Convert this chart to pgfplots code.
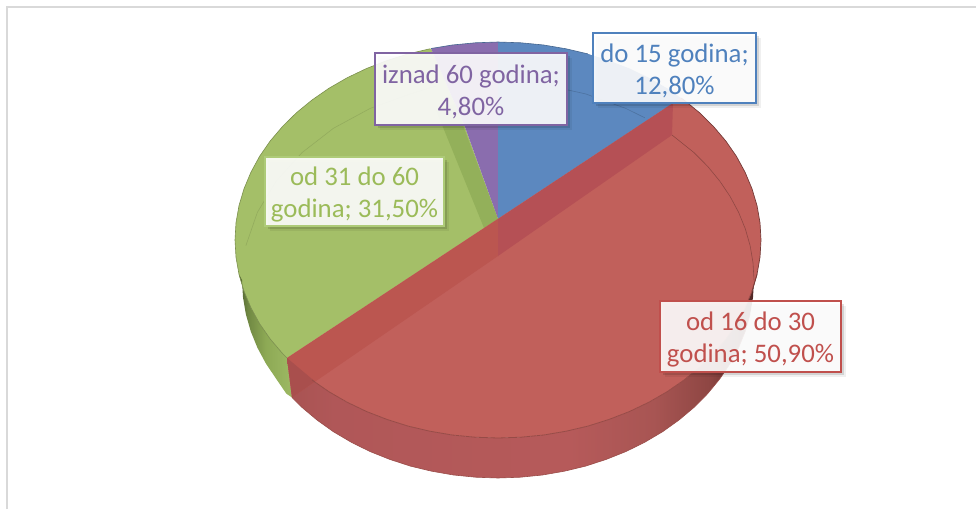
\documentclass[border=0pt]{standalone}
\usepackage{fontspec}
\setmainfont{Carlito}
\usepackage{pgfplots}
\pgfplotsset{compat=1.18}
\usetikzlibrary{shadows}
\definecolor{cBlue}{HTML}{5C88BF}
\definecolor{cPurple}{HTML}{8A6DAE}
\definecolor{cGreen}{HTML}{A4BF68}
\definecolor{cDkGreen}{HTML}{93B05A}
\definecolor{cRed}{HTML}{C1605B}
\definecolor{tBlue}{HTML}{4F81BD}
\definecolor{tRed}{HTML}{C0504D}
\definecolor{tGreen}{HTML}{9BBB59}
\definecolor{tPurple}{HTML}{8064A2}
\definecolor{bGreen}{HTML}{AECB78}
\definecolor{frameC}{HTML}{D9D9D9}
\definecolor{bandL}{HTML}{BB5650}
\definecolor{bandR}{HTML}{B55055}
\definecolor{triC}{HTML}{A94F4D}
\definecolor{rwA}{HTML}{A85352}
\definecolor{rwB}{HTML}{B05758}
\definecolor{rwC}{HTML}{B65A5A}
\definecolor{rwD}{HTML}{A85553}
\definecolor{rwE}{HTML}{8E4643}
\definecolor{rwF}{HTML}{4A2523}
\definecolor{gwA}{HTML}{4F6030}
\definecolor{gwB}{HTML}{6F8742}
\definecolor{gwC}{HTML}{8DA955}
\definecolor{gwD}{HTML}{9DB963}
\pgfdeclarehorizontalshading{redwall}{100bp}{color(0bp)=(rwA);color(25bp)=(rwA);color(30bp)=(rwB);color(55bp)=(rwC);color(64bp)=(rwD);color(70bp)=(rwE);color(75bp)=(rwF);color(100bp)=(rwF)}
\pgfdeclarehorizontalshading{greenwall}{100bp}{color(0bp)=(gwA);color(25bp)=(gwA);color(33bp)=(gwB);color(50bp)=(gwC);color(75bp)=(gwD);color(100bp)=(gwD)}
\newcommand{\up}{\rule{0pt}{24pt}}
\tikzset{lab/.style={rectangle,inner sep=0pt,align=center,font=\fontsize{26.8}{32}\selectfont,fill=white,fill opacity=0.9,text opacity=1,draw opacity=1,line width=2.4pt}}
\begin{document}
\begin{tikzpicture}
\begin{axis}[hide axis,scale only axis,width=976pt,height=509pt,xmin=0,xmax=976,ymin=0,ymax=509,y dir=reverse]
\path (axis cs:0,0) (axis cs:976,509);
% frame
\addplot[frameC,line width=2pt] coordinates {(7,509)(7,7)(976,7)};
% green sector
\addplot[fill=cGreen,draw=none] coordinates {(498,219)(287,358)(282.6,353.6)(270.2,339)(259.6,323.7)(250.9,307.7)(244,291.2)(239,274.4)(236,257.3)(235,240)(236,222.7)(239,205.6)(244,188.8)(250.9,172.3)(259.6,156.3)(270.2,141)(282.6,126.4)(296.5,112.7)(312,100)(328.9,88.3)(347.1,77.8)(366.5,68.5)(386.9,60.6)(408.1,53.9)(429.9,48.8)(431,48.5)(465,127)} -- cycle;
% purple sector
\addplot[fill=cPurple,draw=none] coordinates {(498,219)(465,127)(431,48.5)(452.3,45)(475.1,42.8)(498,42)} -- cycle;
% blue sector
\addplot[fill=cBlue,draw=none] coordinates {(498,219)(498,42)(520.9,42.8)(543.7,45)(566.1,48.8)(587.9,53.9)(609.1,60.6)(629.5,68.5)(648.9,77.8)(667.1,88.3)(681,98)} -- cycle;
% inner wall of green seen through
\addplot[fill=cDkGreen,draw=none] coordinates {(498,219)(484,228)(436,110)(455,104)} -- cycle;
% far arcs of the lower rim
\addplot[draw=black!40!cGreen,opacity=0.25,line width=0.6pt] coordinates {(245.9,245.6)(257.4,212.3)(276.3,181)(301.9,152.7)(333.4,128.3)(370,108.5)(410.4,93.9)(436,86)};
\addplot[draw=black!40!cBlue,opacity=0.4,line width=0.6pt] coordinates {(568,90)(585.6,93.9)(626,108.5)(644.8,117.8)};
% green wall
\addplot[shading=greenwall,draw=none] coordinates {(239,274.4)(244,291.2)(250.9,307.7)(259.6,323.7)(270.2,339)(282.6,353.6)(287,358)(292,397.5)(286.3,393.6)(276.3,379)(266,363.7)(257.4,347.7)(250.7,331.2)(245.9,314.4)(243,297.3)(242,280)} -- cycle;
% red wall
\addplot[shading=redwall,draw=none] coordinates {(757,274.4)(752,291.2)(745.1,307.7)(736.4,323.7)(725.8,339)(713.4,353.6)(699.5,367.3)(684,380)(667.1,391.7)(648.9,402.2)(629.5,411.5)(609.1,419.4)(587.9,426.1)(566.1,431.2)(543.7,435)(520.9,437.2)(498,438)(475.1,437.2)(452.3,435)(429.9,431.2)(408.1,426.1)(386.9,419.4)(366.5,411.5)(347.1,402.2)(328.9,391.7)(312,380)(296.5,367.3)(287,358)(292,397.5)(301.9,407.3)(317,420)(333.4,431.7)(351.2,442.2)(370,451.5)(389.8,459.4)(410.4,466.1)(431.7,471.2)(453.6,475)(475.7,477.2)(498,478)(520.3,477.2)(542.4,475)(564.3,471.2)(585.6,466.1)(606.2,459.4)(626,451.5)(644.8,442.2)(662.6,431.7)(679,420)(694.1,407.3)(707.7,393.6)(719.7,379)(730,363.7)(738.6,347.7)(745.3,331.2)(750.1,314.4)(753,297.3)(754,280)} -- cycle;
% red top face
\addplot[fill=cRed,draw=none] coordinates {(287,358)(681,98)(684,100)(699.5,112.7)(713.4,126.4)(725.8,141)(736.4,156.3)(745.1,172.3)(752,188.8)(757,205.6)(760,222.7)(761,240)(760,257.3)(757,274.4)(752,291.2)(745.1,307.7)(736.4,323.7)(725.8,339)(713.4,353.6)(699.5,367.3)(684,380)(667.1,391.7)(648.9,402.2)(629.5,411.5)(609.1,419.4)(587.9,426.1)(566.1,431.2)(543.7,435)(520.9,437.2)(498,438)(475.1,437.2)(452.3,435)(429.9,431.2)(408.1,426.1)(386.9,419.4)(366.5,411.5)(347.1,402.2)(328.9,391.7)(312,380)(296.5,367.3)} -- cycle;
% band
\addplot[fill=bandL,draw=none] coordinates {(287,358)(292,397.5)(498,256)(498,219)} -- cycle;
\addplot[fill=bandR,draw=none] coordinates {(498,219)(498,256)(672,135)(673,103)} -- cycle;
\addplot[fill=triC,draw=none] coordinates {(287,358)(292,397.5)(315,381.5)} -- cycle;
% outlines
\addplot[draw=black!25!cRed,line width=0.6pt] coordinates {(672,135)(694.1,152.7)(707.7,166.4)(719.7,181)(730,196.3)(738.6,212.3)(745.3,228.8)(750.1,245.6)(753,262.7)(754,280)};
\addplot[draw=black!22!cRed,line width=0.8pt] coordinates {(757,274.4)(752,291.2)(745.1,307.7)(736.4,323.7)(725.8,339)(713.4,353.6)(699.5,367.3)(684,380)(667.1,391.7)(648.9,402.2)(629.5,411.5)(609.1,419.4)(587.9,426.1)(566.1,431.2)(543.7,435)(520.9,437.2)(498,438)(475.1,437.2)(452.3,435)(429.9,431.2)(408.1,426.1)(386.9,419.4)(366.5,411.5)(347.1,402.2)(328.9,391.7)(312,380)};
\addplot[draw=black!40!cRed,line width=0.7pt] coordinates {(681,98)(684,100)(699.5,112.7)(713.4,126.4)(725.8,141)(736.4,156.3)(745.1,172.3)(752,188.8)(757,205.6)(760,222.7)(761,240)(760,257.3)(757,274.4)(752,291.2)};
\addplot[draw=black!20!cRed,line width=0.6pt] coordinates {(292,397.5)(301.9,407.3)(317,420)(333.4,431.7)(351.2,442.2)(370,451.5)(389.8,459.4)(410.4,466.1)(431.7,471.2)(453.6,475)(475.7,477.2)(498,478)(520.3,477.2)(542.4,475)(564.3,471.2)(585.6,466.1)(606.2,459.4)(626,451.5)(644.8,442.2)(662.6,431.7)(679,420)(694.1,407.3)(707.7,393.6)(719.7,379)(730,363.7)(738.6,347.7)(745.3,331.2)(750.1,314.4)};
\addplot[draw=black!25!cGreen,line width=0.6pt] coordinates {(287,358)(282.6,353.6)(270.2,339)(259.6,323.7)(250.9,307.7)(244,291.2)(239,274.4)(236,257.3)(235,240)(236,222.7)(239,205.6)(244,188.8)(250.9,172.3)(259.6,156.3)(270.2,141)(282.6,126.4)(296.5,112.7)(312,100)(328.9,88.3)(347.1,77.8)(366.5,68.5)(386.9,60.6)(408.1,53.9)(429.9,48.8)};
\addplot[draw=black!25!cBlue,line width=0.6pt] coordinates {(431,48.5)(452.3,45)(475.1,42.8)(498,42)(520.9,42.8)(543.7,45)(566.1,48.8)(587.9,53.9)};
% labels
\node[lab,draw=tBlue,text=tBlue,minimum width=163pt,minimum height=70pt,drop shadow={shadow xshift=3pt,shadow yshift=-3pt,fill=black,opacity=0.12},drop shadow={shadow xshift=5pt,shadow yshift=-5pt,fill=black,opacity=0.06}] at (axis cs:674.5,68) {\up do 15 godina;\\12,80\%};
\node[lab,draw=tPurple,text=tPurple,minimum width=192pt,minimum height=72pt,drop shadow={shadow xshift=3pt,shadow yshift=-3pt,fill=black,opacity=0.12},drop shadow={shadow xshift=5pt,shadow yshift=-5pt,fill=black,opacity=0.06}] at (axis cs:471,89) {\up iznad 60 godina;\\4,80\%};
\node[lab,draw=bGreen,text=tGreen,minimum width=179pt,minimum height=69pt,drop shadow={shadow xshift=3pt,shadow yshift=-3pt,fill=black,opacity=0.12},drop shadow={shadow xshift=5pt,shadow yshift=-5pt,fill=black,opacity=0.06}] at (axis cs:354.5,191.5) {\up od 31 do 60\\godina; 31,50\%};
\node[lab,draw=tRed,text=tRed,minimum width=181pt,minimum height=71pt,drop shadow={shadow xshift=3pt,shadow yshift=-3pt,fill=black,opacity=0.12},drop shadow={shadow xshift=5pt,shadow yshift=-5pt,fill=black,opacity=0.06}] at (axis cs:750.5,336.5) {\up od 16 do 30\\godina; 50,90\%};
\end{axis}
\end{tikzpicture}
\end{document}
